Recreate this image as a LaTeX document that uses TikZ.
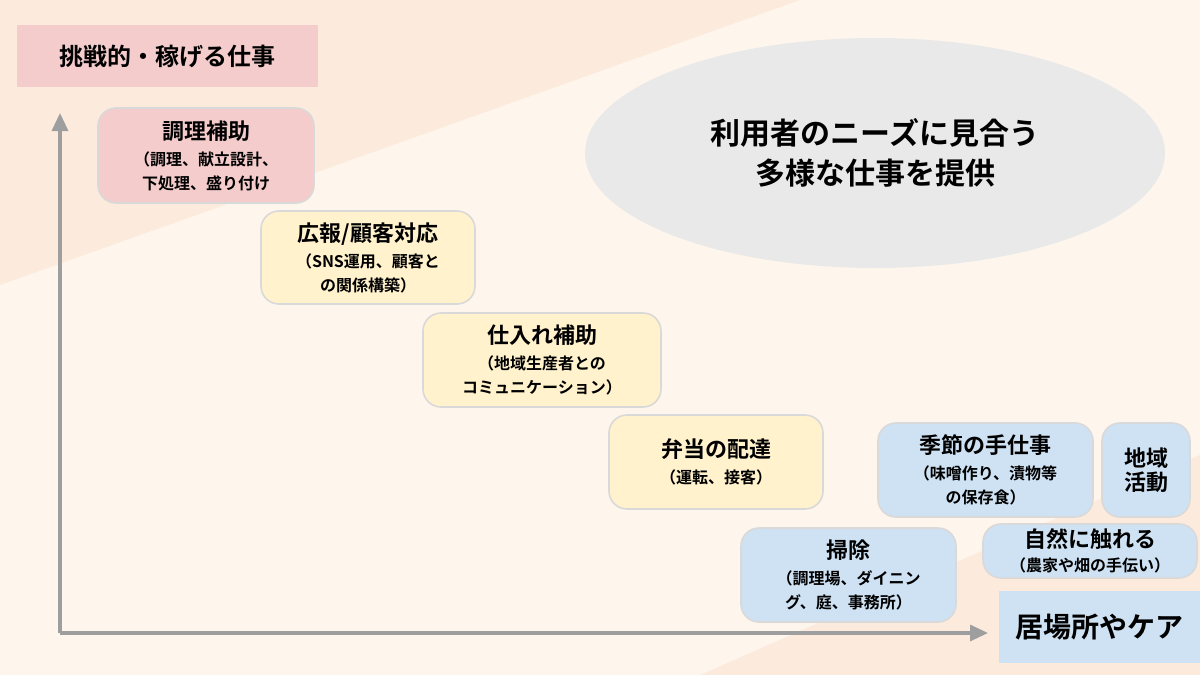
\documentclass[tikz,border=0pt]{standalone}
\usepackage{fontspec}
\setmainfont{Noto Sans CJK JP}[BoldFont={* Bold}]
\usetikzlibrary{arrows.meta,shapes.geometric}
\definecolor{bgA}{HTML}{FCEBDD}
\definecolor{bgB}{HTML}{FEF5EC}
\definecolor{pinkf}{HTML}{F4CCCC}
\definecolor{yelf}{HTML}{FFF2CC}
\definecolor{bluef}{HTML}{CFE2F3}
\definecolor{bordc}{HTML}{D9D9D9}
\definecolor{axc}{HTML}{9E9E9E}
\tikzset{
 card/.style={draw=bordc,line width=0.8pt,rounded corners=9pt,align=center,inner sep=0pt},
 hd/.style={font=\bfseries\fontsize{11}{13}\selectfont},
 axis/.style={draw=axc,line width=1.6pt,-{Triangle[length=9pt,width=8pt]}}
}
\newcommand{\sub}[1]{{\bfseries\fontsize{8}{10}\selectfont #1}}
\begin{document}
\begin{tikzpicture}[x=0.5pt,y=-0.5pt]
\useasboundingbox (0,0) rectangle (1200,675);
\fill[bgB] (0,0) rectangle (1200,675);
\fill[bgA] (0,0) -- (800,0) -- (0,285) -- cycle;
\fill[bgA] (700,675) -- (1200,455) -- (1200,675) -- cycle;
\node[ellipse,fill=gray!17,minimum width=580\pgflinewidth*0+290pt,minimum height=115pt,align=center,font=\bfseries\fontsize{15}{20}\selectfont] (ell) at (875,153) {利用者のニーズに見合う\\多様な仕事を提供};
\node[fill=pinkf,minimum width=150.5pt,minimum height=31pt,font=\bfseries\fontsize{12}{14}\selectfont] (ytitle) at (167.5,56) {挑戦的・稼げる仕事};
\node[fill=bluef,minimum width=100.5pt,minimum height=36pt,font=\bfseries\fontsize{14}{16}\selectfont] (xtitle) at (1099.5,627) {居場所やケア};
\node[card,fill=pinkf,minimum width=108pt,minimum height=47.5pt] (b1) at (206,155.5) {\textbf{\fontsize{11}{13}\selectfont 調理補助}\\[1pt]\sub{（調理、献立設計、}\\\sub{下処理、盛り付け}};
\node[card,fill=yelf,minimum width=107pt,minimum height=46.5pt] (b2) at (368,257.5) {\textbf{\fontsize{11}{13}\selectfont 広報/顧客対応}\\[1pt]\sub{（SNS運用、顧客と}\\\sub{の関係構築）}};
\node[card,fill=yelf,minimum width=119pt,minimum height=47pt] (b3) at (542,360) {\textbf{\fontsize{11}{13}\selectfont 仕入れ補助}\\[1pt]\sub{（地域生産者との}\\\sub{コミュニケーション）}};
\node[card,fill=yelf,minimum width=107pt,minimum height=47pt] (b4) at (716,462) {\textbf{\fontsize{11}{13}\selectfont 弁当の配達}\\[1pt]\sub{（運転、接客）}};
\node[card,fill=bluef,minimum width=107.5pt,minimum height=47pt] (b5) at (985.5,470) {\textbf{\fontsize{11}{13}\selectfont 季節の手仕事}\\[1pt]\sub{（味噌作り、漬物等}\\\sub{の保存食）}};
\node[card,fill=bluef,minimum width=44pt,minimum height=47pt] (b6) at (1146,470) {\textbf{\fontsize{11}{14}\selectfont 地域}\\\textbf{\fontsize{11}{14}\selectfont 活動}};
\node[card,fill=bluef,minimum width=107pt,minimum height=27pt] (b7) at (1090,551) {\textbf{\fontsize{11}{13}\selectfont 自然に触れる}\\\sub{（農家や畑の手伝い）}};
\node[card,fill=bluef,minimum width=107.5pt,minimum height=47pt] (b8) at (848.5,575) {\textbf{\fontsize{11}{13}\selectfont 掃除}\\[1pt]\sub{（調理場、ダイニン}\\\sub{グ、庭、事務所）}};
\coordinate (o) at (60,633);
\coordinate (ytip) at (60,113);
\coordinate (xtip) at (988,633);
\draw[axis] (o) -- (ytip);
\draw[axis] (o) -- (xtip);
\end{tikzpicture}
\end{document}
